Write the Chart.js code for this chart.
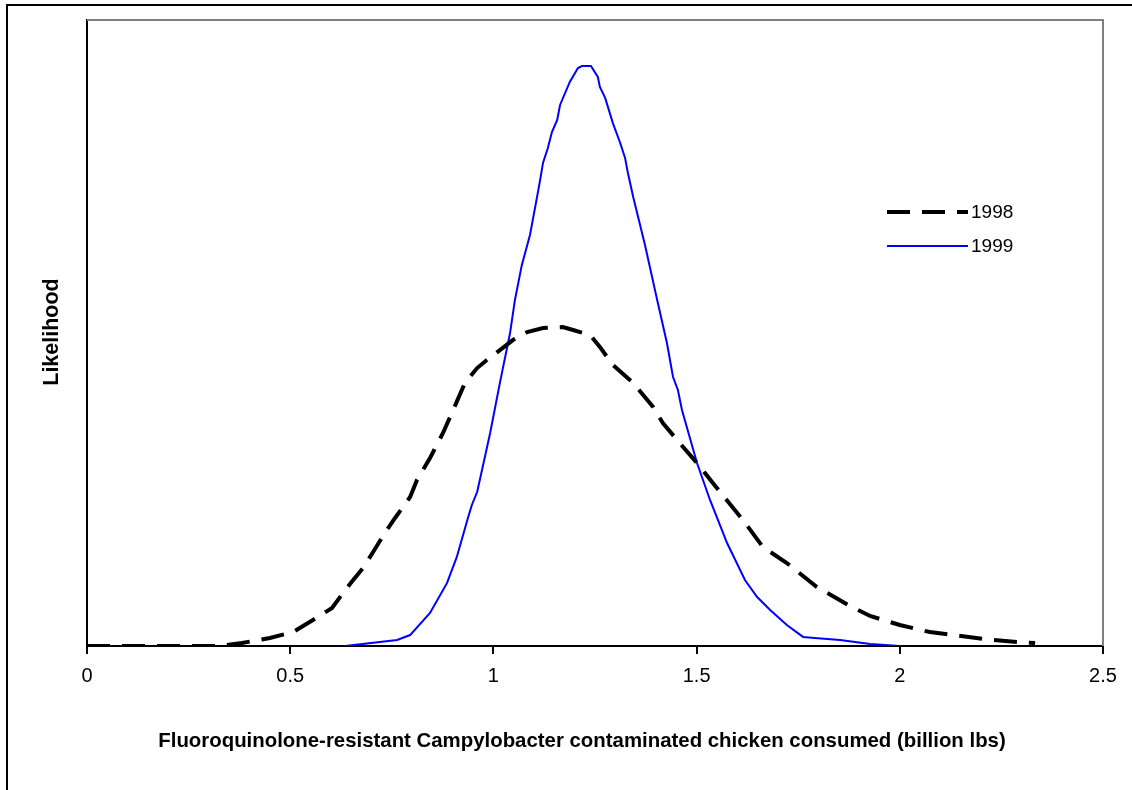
<!DOCTYPE html>
<html lang="en">
<head>
    <meta charset="UTF-8">
    <title>Likelihood 1998 vs 1999</title>
    <script src="https://cdn.jsdelivr.net/npm/chart.js"></script>
    <style>
        html, body { margin: 0; padding: 0; background: #fff; }
        #wrap { width: 1132px; height: 790px; }
    </style>
</head>
<body>
    <div id="wrap"><canvas id="chart"></canvas></div>

    <script>
        // x values (billion lbs) and likelihood readings for each year
        const x1998 = [0, 0.327, 0.381, 0.450, 0.507, 0.556, 0.603, 0.630, 0.655, 0.679, 0.704, 0.733, 0.758, 0.795, 0.812,
            0.844, 0.876, 0.901, 0.930, 0.960, 0.984, 1.016, 1.048, 1.083, 1.122, 1.171, 1.196, 1.238, 1.262, 1.294,
            1.344, 1.393, 1.417, 1.452, 1.501, 1.540, 1.614, 1.663, 1.722, 1.796, 1.873, 1.927, 2.000, 2.074, 2.131,
            2.205, 2.288, 2.333];
        const y1998 = [0, 0, 0.019, 0.051, 0.089, 0.166, 0.243, 0.339, 0.422, 0.498, 0.601, 0.722, 0.818, 0.952, 1.061,
            1.201, 1.361, 1.508, 1.681, 1.776, 1.827, 1.891, 1.955, 2.006, 2.032, 2.038, 2.019, 1.987, 1.911, 1.795,
            1.681, 1.527, 1.425, 1.316, 1.169, 1.042, 0.805, 0.633, 0.530, 0.377, 0.262, 0.192, 0.134, 0.089, 0.070,
            0.045, 0.026, 0.019];

        const x1999 = [0.635, 0.763, 0.795, 0.844, 0.886, 0.910, 0.938, 0.947, 0.960, 0.972, 0.992, 1.016, 1.041, 1.053,
            1.070, 1.090, 1.107, 1.115, 1.122, 1.134, 1.144, 1.157, 1.164, 1.188, 1.208, 1.218, 1.240, 1.257, 1.262,
            1.275, 1.294, 1.312, 1.324, 1.331, 1.344, 1.373, 1.403, 1.427, 1.442, 1.454, 1.464, 1.501, 1.533, 1.575,
            1.619, 1.649, 1.681, 1.722, 1.762, 1.791, 1.853, 1.927, 2.000];
        const y1999 = [0, 0.038, 0.070, 0.211, 0.403, 0.569, 0.824, 0.901, 0.984, 1.125, 1.361, 1.681, 2.000, 2.211,
            2.435, 2.626, 2.863, 2.978, 3.086, 3.182, 3.284, 3.361, 3.457, 3.604, 3.693, 3.706, 3.706, 3.636, 3.572,
            3.502, 3.341, 3.214, 3.118, 3.022, 2.869, 2.562, 2.211, 1.936, 1.719, 1.636, 1.508, 1.169, 0.933, 0.658,
            0.422, 0.313, 0.230, 0.134, 0.058, 0.051, 0.038, 0.013, 0];

        const seriesNames = ['1998', '1999'];
        const xTitle = 'Fluoroquinolone-resistant Campylobacter contaminated chicken consumed (billion lbs)';
        const yTitle = 'Likelihood';

        function toPoints(xs, ys) {
            return xs.map((x, i) => ({ x: x, y: ys[i] }));
        }

        // frame, grey top/right edges, axis titles and legend
        const decorations = {
            id: 'decorations',
            beforeDraw(chart) {
                const c = chart.ctx;
                c.save();
                c.fillStyle = '#fff';
                c.fillRect(0, 0, chart.width, chart.height);
                c.strokeStyle = '#000';
                c.lineWidth = 2;
                c.strokeRect(7, 5, chart.width + 20, chart.height + 20);
                c.restore();
            },
            afterDraw(chart) {
                const c = chart.ctx;
                const a = chart.chartArea;
                c.save();
                c.strokeStyle = '#808080';
                c.lineWidth = 2;
                c.beginPath();
                c.moveTo(a.left, a.top);
                c.lineTo(a.right, a.top);
                c.lineTo(a.right, a.bottom);
                c.stroke();

                c.fillStyle = '#000';
                c.font = 'bold 20.4px "Liberation Sans", Arial, sans-serif';
                c.textAlign = 'center';
                c.textBaseline = 'alphabetic';
                c.fillText(xTitle, 582, 747);

                c.font = 'bold 21.5px "Liberation Sans", Arial, sans-serif';
                c.translate(58, 332);
                c.rotate(-Math.PI / 2);
                c.fillText(yTitle, 0, 0);
                c.restore();

                // legend
                c.save();
                const rows = [212, 246];
                chart.data.datasets.forEach((ds, i) => {
                    c.strokeStyle = ds.borderColor;
                    c.lineWidth = ds.borderWidth;
                    c.setLineDash(ds.borderDash || []);
                    c.beginPath();
                    c.moveTo(887, rows[i]);
                    c.lineTo(968, rows[i]);
                    c.stroke();
                    c.setLineDash([]);
                    c.fillStyle = '#000';
                    c.font = '19px "Liberation Sans", Arial, sans-serif';
                    c.textAlign = 'left';
                    c.textBaseline = 'middle';
                    c.fillText(ds.label, 971, rows[i] + 1);
                });
                c.restore();
            }
        };

        const ctx = document.getElementById('chart').getContext('2d');
        new Chart(ctx, {
            type: 'scatter',
            data: {
                datasets: [{
                    label: seriesNames[0],
                    data: toPoints(x1998, y1998),
                    showLine: true,
                    borderColor: '#000000',
                    borderWidth: 4,
                    borderDash: [23, 12],
                    pointRadius: 0,
                    tension: 0
                }, {
                    label: seriesNames[1],
                    data: toPoints(x1999, y1999),
                    showLine: true,
                    borderColor: '#0000FF',
                    borderWidth: 2,
                    pointRadius: 0,
                    tension: 0
                }]
            },
            options: {
                responsive: true,
                maintainAspectRatio: false,
                animation: false,
                layout: { padding: { left: 7, top: 20, right: 29, bottom: 0 } },
                plugins: {
                    legend: { display: false },
                    tooltip: { enabled: false }
                },
                scales: {
                    x: {
                        type: 'linear',
                        min: 0,
                        max: 2.5,
                        afterFit: s => { s.height = 144; },
                        border: { color: '#000', width: 2 },
                        grid: { drawOnChartArea: false, drawTicks: true, tickLength: 8, color: '#000', lineWidth: 2 },
                        ticks: {
                            stepSize: 0.5,
                            padding: 10,
                            color: '#000',
                            font: { family: '"Liberation Sans", Arial, sans-serif', size: 20 },
                            callback: v => String(v)
                        }
                    },
                    y: {
                        type: 'linear',
                        min: 0,
                        max: 4,
                        afterFit: s => { s.width = 80; },
                        border: { color: '#000', width: 2 },
                        grid: { display: false },
                        ticks: { display: false }
                    }
                }
            },
            plugins: [decorations]
        });
    </script>
</body>
</html>
